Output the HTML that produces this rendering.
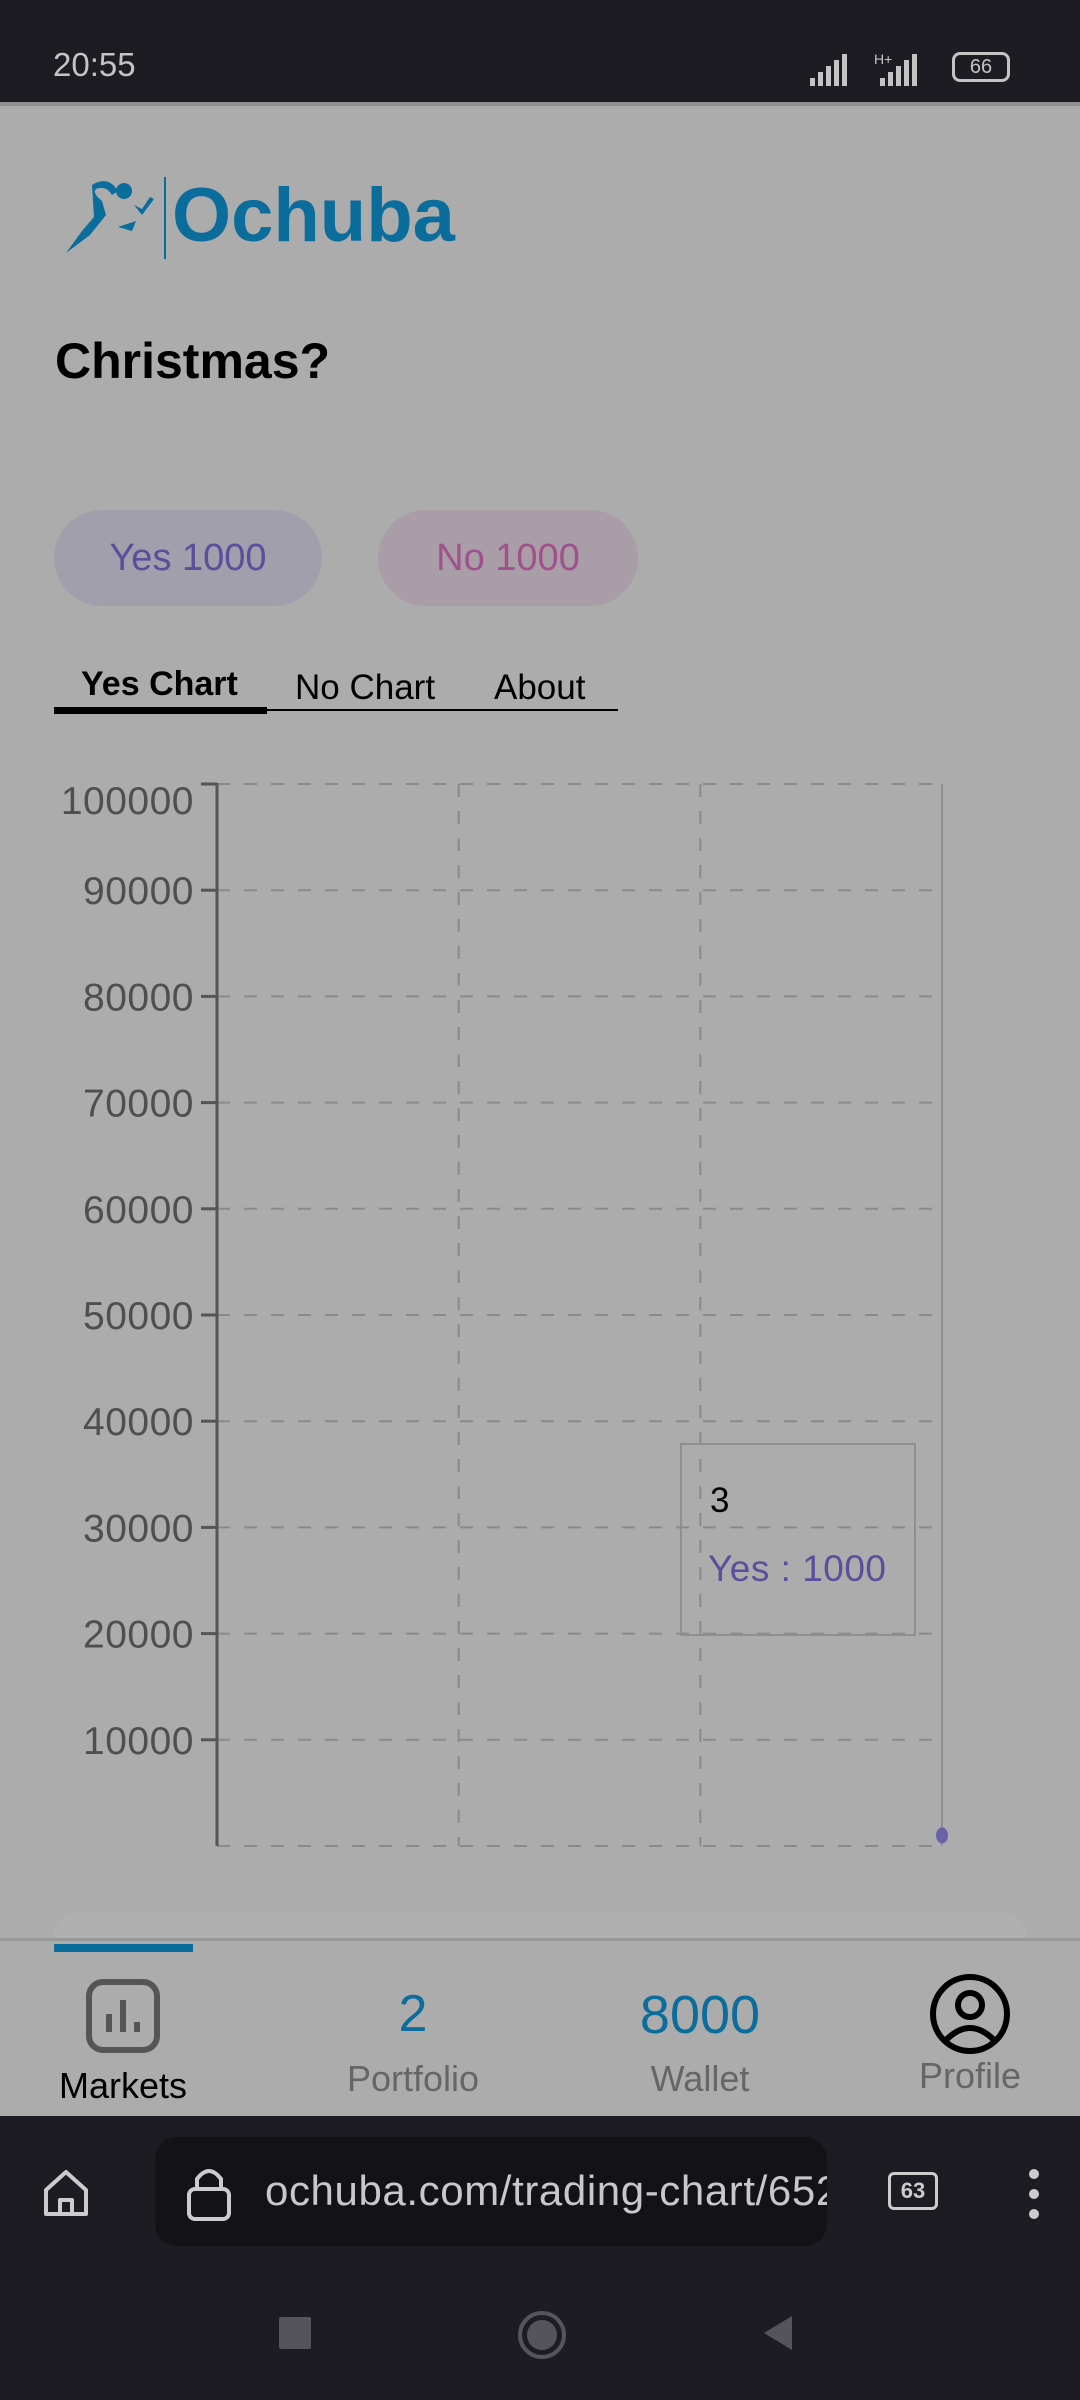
<!DOCTYPE html>
<html><head><meta charset="utf-8">
<style>
html,body{margin:0;padding:0;width:1080px;height:2400px;overflow:hidden;background:#acacac;font-family:"Liberation Sans",sans-serif;}
.abs{position:absolute;}
</style></head>
<body>
<div class="abs" style="left:0;top:0;width:1080px;height:102px;background:#1d1c22;">
  <div class="abs" style="left:53px;top:46px;font-size:33px;color:#c4c4c4;">20:55</div>
  <div class="abs" style="left:952px;top:52px;width:58px;height:30px;border:3px solid #c4c4c4;border-radius:8px;box-sizing:border-box;color:#c4c4c4;font-size:20px;text-align:center;line-height:24px;">66</div>
  <svg class="abs" style="left:808px;top:50px" width="140" height="40">
    <g fill="#c4c4c4"><rect x="2" y="28" width="5" height="8"/><rect x="10" y="22" width="5" height="14"/><rect x="18" y="16" width="5" height="20"/><rect x="26" y="10" width="5" height="26"/><rect x="34" y="4" width="5" height="32"/>
    <rect x="72" y="28" width="5" height="8"/><rect x="80" y="22" width="5" height="14"/><rect x="88" y="16" width="5" height="20"/><rect x="96" y="10" width="5" height="26"/><rect x="104" y="4" width="5" height="32"/></g>
    <text x="66" y="14" font-size="14" fill="#c4c4c4">H+</text>
  </svg>
</div>
<div class="abs" style="left:0;top:102px;width:1080px;height:4px;background:#8f8f8f"></div>

<svg class="abs" style="left:62px;top:175px" width="100" height="90">
  <g fill="#0a6d9c"><circle cx="62" cy="16" r="8"/><path d="M30 10 Q46 0 56 16 L50 20 Q44 10 34 14 Q30 18 40 26 L44 40 L28 60 L4 78 L20 56 L32 42 Z"/><path d="M56 52 L74 46 L70 56 Z"/><path d="M72 30 L80 40 L92 24 L88 22 L80 34 Z"/></g>
</svg>
<div class="abs" style="left:164px;top:177px;width:2px;height:82px;background:#0a6d9c"></div>
<div class="abs" style="left:172px;top:172px;font-size:76px;font-weight:bold;color:#0a6d9c;">Ochuba</div>

<div class="abs" style="left:55px;top:332px;font-size:50px;font-weight:bold;color:#000;">Christmas?</div>

<div class="abs" style="left:54px;top:510px;width:268px;height:96px;border-radius:48px;background:#a09fab;color:#5a4f9c;font-size:38px;text-align:center;line-height:96px;">Yes 1000</div>
<div class="abs" style="left:378px;top:510px;width:260px;height:96px;border-radius:48px;background:#a99da8;color:#a0508a;font-size:38px;text-align:center;line-height:96px;">No 1000</div>

<div class="abs" style="left:81px;top:665px;font-size:34px;font-weight:bold;color:#000;">Yes Chart</div>
<div class="abs" style="left:295px;top:668px;font-size:35px;color:#000;">No Chart</div>
<div class="abs" style="left:494px;top:668px;font-size:35px;color:#000;">About</div>
<div class="abs" style="left:54px;top:709px;width:564px;height:2px;background:#000"></div>
<div class="abs" style="left:54px;top:707px;width:213px;height:7px;background:#000"></div>

<svg class="abs" id="chart" style="left:0;top:0" width="1080" height="1900"></svg>
<div class="abs" style="left:680px;top:1443px;width:236px;height:193px;border:2px solid #8f8f8f;box-sizing:border-box;">
  <div class="abs" style="left:28px;top:36px;font-size:35px;color:#000;">3</div>
  <div class="abs" style="left:26px;top:103px;font-size:37px;color:#5a4f9c;letter-spacing:0.5px;">Yes : 1000</div>
</div>

<div class="abs" style="left:54px;top:1912px;width:972px;height:60px;border-radius:24px;background:#b0b0b0;"></div>
<div class="abs" style="left:0;top:1938px;width:1080px;height:178px;background:#acacac;border-top:3px solid #999;box-sizing:border-box;">
  <div class="abs" style="left:54px;top:3px;width:139px;height:8px;background:#0a6d9c"></div>
</div>
<div class="abs" style="left:38px;top:1978px;width:170px;text-align:center;">
  <svg width="76" height="76"><rect x="4" y="4" width="68" height="68" rx="14" fill="none" stroke="#555" stroke-width="6"/><g stroke="#555" stroke-width="6"><line x1="24" y1="54" x2="24" y2="36"/><line x1="38" y1="54" x2="38" y2="22"/><line x1="52" y1="54" x2="52" y2="44"/></g></svg>
  <div style="font-size:36px;color:#000;margin-top:6px">Markets</div>
</div>
<div class="abs" style="left:313px;top:1984px;width:200px;text-align:center;">
  <div style="font-size:52px;color:#0a6d9c">2</div><div style="font-size:36px;color:#666;margin-top:14px">Portfolio</div>
</div>
<div class="abs" style="left:600px;top:1984px;width:200px;text-align:center;">
  <div style="font-size:54px;color:#0a6d9c">8000</div><div style="font-size:36px;color:#666;margin-top:12px">Wallet</div>
</div>
<div class="abs" style="left:880px;top:1972px;width:180px;text-align:center;">
  <svg width="84" height="84"><circle cx="42" cy="42" r="37" fill="none" stroke="#000" stroke-width="6"/><circle cx="42" cy="33" r="12" fill="none" stroke="#000" stroke-width="6"/><path d="M18 68 Q42 44 66 68" fill="none" stroke="#000" stroke-width="6"/></svg>
  <div style="font-size:36px;color:#666;margin-top:-6px">Profile</div>
</div>

<div class="abs" style="left:0;top:2116px;width:1080px;height:284px;background:#1d1c22;">
  <svg class="abs" style="left:40px;top:50px" width="52" height="52"><path d="M6 24 L26 6 L46 24 V48 H6 Z M20 48 V34 H32 V48" fill="none" stroke="#ccc" stroke-width="4" stroke-linejoin="round"/></svg>
  <div class="abs" style="left:155px;top:21px;width:672px;height:109px;border-radius:22px;background:#131217;overflow:hidden;">
    <svg class="abs" style="left:30px;top:26px" width="50" height="60"><rect x="4" y="26" width="40" height="30" rx="6" fill="none" stroke="#ccc" stroke-width="4"/><path d="M12 26 V16 Q24 0 36 16 V26" fill="none" stroke="#ccc" stroke-width="4"/></svg>
    <div class="abs" style="left:110px;top:30px;font-size:42px;color:#c8c8c8;white-space:nowrap;letter-spacing:0.6px;">ochuba.com/trading-chart/652</div>
  </div>
  <div class="abs" style="left:888px;top:56px;width:50px;height:38px;border:3px solid #ccc;border-radius:6px;box-sizing:border-box;color:#ccc;font-size:22px;font-weight:bold;text-align:center;line-height:32px;">63</div>
  <svg class="abs" style="left:1022px;top:50px" width="24" height="56"><g fill="#ccc"><circle cx="12" cy="8" r="5"/><circle cx="12" cy="28" r="5"/><circle cx="12" cy="48" r="5"/></g></svg>
  <div class="abs" style="left:279px;top:201px;width:32px;height:32px;background:#55545a;border-radius:2px"></div>
  <div class="abs" style="left:518px;top:195px;width:40px;height:40px;border:4px solid #55545a;border-radius:50%;"><div style="margin:5px;width:30px;height:30px;border-radius:50%;background:#55545a"></div></div>
  <svg class="abs" style="left:760px;top:198px" width="40" height="40"><path d="M4 19 L32 2 V36 Z" fill="#55545a"/></svg>
</div>

<script>
const categories = ["0","1","2","3"];
const yesValues = [null, null, null, 1000];
const yTicks = [10000,20000,30000,40000,50000,60000,70000,80000,90000,100000];
const yMax = 100000;

const svg = document.getElementById('chart');
const NS = 'http://www.w3.org/2000/svg';
const X0 = 217, X1 = 942, Y0 = 1846, Y1 = 784;
function xScale(i){ return X0 + (X1 - X0) * i / (categories.length - 1); }
function yScale(v){ return Y0 - (Y0 - Y1) * v / yMax; }
function add(tag, attrs){ const e = document.createElementNS(NS, tag); for (const k in attrs) e.setAttribute(k, attrs[k]); svg.appendChild(e); return e; }

const gridVals = [0].concat(yTicks);
gridVals.forEach(v => {
  const l = add('line', {x1: X0, x2: X1, y1: yScale(v), y2: yScale(v), stroke: '#8a8a8a', 'stroke-width': 2, 'stroke-dasharray': '13 14'});
  
  
});
categories.forEach((c, i) => {
  if (i === 0) return;
  const last = i === categories.length - 1;
  const l = add('line', {x1: xScale(i), x2: xScale(i), y1: Y1, y2: Y0, stroke: last ? '#8f8f8f' : '#8a8a8a', 'stroke-width': 2, 'stroke-dasharray': last ? 'none' : '13 14'});
  
  
});
const ax = add('line', {x1: X0, x2: X0, y1: Y1 - 1, y2: Y0, stroke: '#555', 'stroke-width': 3});


add('line', {x1: X0 - 16, x2: X0, y1: Y1, y2: Y1, stroke: '#555', 'stroke-width': 3});
yTicks.forEach(v => {
  const y = yScale(v);
  const t = add('line', {x1: X0 - 16, x2: X0, y1: y, y2: y, stroke: '#555', 'stroke-width': 3});
  
  
  const ty = v === yMax ? y + 30 : y + 14;
  const tx = add('text', {x: 194, y: ty, 'text-anchor': 'end', 'font-size': 39, fill: '#4f4f4f', 'letter-spacing': 0.5, 'font-family': 'Liberation Sans, sans-serif'});
  tx.textContent = String(v);
  
  
});
yesValues.forEach((v, i) => {
  if (v === null) return;
  const p = add('ellipse', {cx: xScale(i), cy: yScale(v), rx: 6, ry: 8, fill: '#6a62a8'});
  
  
});
</script>
</body></html>
